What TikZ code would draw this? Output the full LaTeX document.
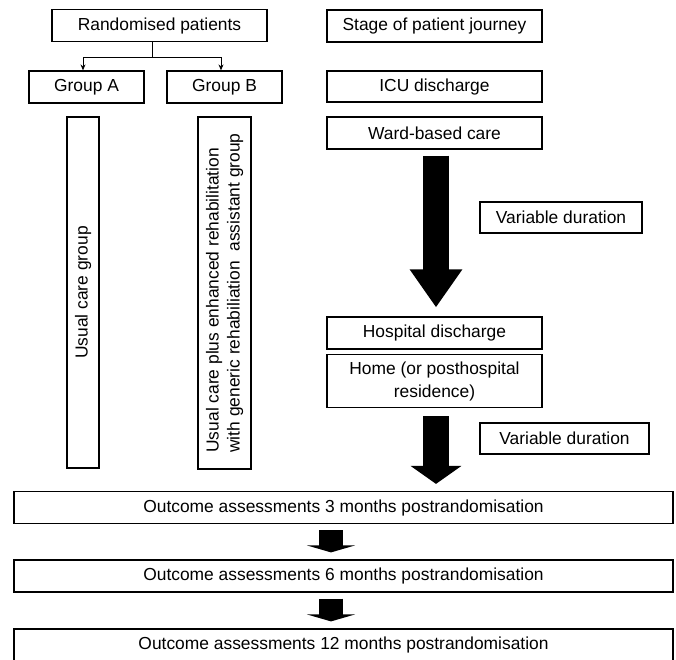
\documentclass[tikz,border=0pt]{standalone}
\usepackage{fontspec}
\setmainfont{Liberation Sans}
\usetikzlibrary{arrows.meta}
\begin{document}
\begin{tikzpicture}[x=1pt,y=1pt,font=\fontsize{17.4}{23}\selectfont]
	\tikzstyle{mybox}=[draw,line width=1.2pt,inner sep=0pt,align=center]
	\tikzstyle{mythin}=[line width=1pt,-{Stealth[length=6pt,width=5pt]}]
	\tikzstyle{mybig}=[line width=26pt,-{Triangle[length=38pt,width=50pt]}]
	\tikzstyle{mymid}=[line width=26pt,-{Triangle[length=18pt,width=50pt]}]
	\tikzstyle{mysmall}=[line width=24pt,-{Triangle[length=7pt,width=48pt]}]
		\useasboundingbox (0,0) rectangle (676,-659);
		\clip (0,0) rectangle (676,-659);

		% left side: the two groups
		\node[mybox,minimum width=215pt,minimum height=32pt] (rand) at (159.5,-25.5) {Randomised patients};
		\node[mybox,minimum width=115pt,minimum height=32pt] (grpA) at (86.5,-87) {Group A};
		\node[mybox,minimum width=115pt,minimum height=32pt] (grpB) at (224.5,-87) {Group B};

		\draw[line width=1pt] ([xshift=-7.5pt]rand.south) -- ++(0,-15) coordinate (fork);
		\draw[mythin] (fork) -| ([xshift=-3.5pt]grpA.north);
		\draw[mythin] (fork) -| ([xshift=-3.5pt]grpB.north);

		\node[mybox,rotate=90,minimum width=351pt,minimum height=32pt] (usual) at (83,-292.5) {Usual care group};
		\node[mybox,rotate=90,minimum width=352pt,minimum height=53pt,align=left,font=\fontsize{17.4}{21}\selectfont] (enh) at (224.5,-293)
			{Usual care plus enhanced rehabilitation\\with generic rehabiliation\ \ assistant group};

		% right side: patient journey
		\node[mybox,minimum width=215pt,minimum height=32pt] (stage) at (434.5,-26) {Stage of patient journey};
		\node[mybox,minimum width=215pt,minimum height=31pt] (icu) at (434.5,-86.5) {ICU discharge};
		\node[mybox,minimum width=215pt,minimum height=32pt] (ward) at (434.5,-133) {Ward-based care};
		\node[mybox,minimum width=215pt,minimum height=32pt] (hosp) at (434.5,-333) {Hospital discharge};
		\node[mybox,minimum width=215pt,minimum height=53pt] (home) at (434.5,-381) {Home (or posthospital\\residence)};

		\node[mybox,minimum width=162pt,minimum height=31pt] (varA) at (561,-217.5) {Variable duration};
		\node[mybox,minimum width=169pt,minimum height=31pt] (varB) at (564.5,-438.5) {Variable duration};

		% outcome assessments
		\foreach \n / \y / \m in {out3/-507.5/3,out6/-576/6,out12/-645/12} {
			\node[mybox,minimum width=659pt,minimum height=32pt] (\n) at (343.5,\y) {Outcome assessments \m\ months postrandomisation};}

		\coordinate (homeend) at (home.south |- out3.north);
		\draw[mybig] ([xshift=1.5pt,yshift=-6pt]ward.south) -- ([xshift=1.5pt,yshift=9pt]hosp.north);
		\draw[mymid] ([xshift=1.5pt,yshift=-8pt]home.south) -- ([xshift=1.5pt,yshift=7pt]homeend);
		\foreach \a / \b in {out3/out6,out6/out12} {
			\draw[mysmall] ([xshift=-12.5pt,yshift=-6pt]\a.south) -- ([xshift=-12.5pt,yshift=7pt]\b.north);}
	\end{tikzpicture}
\end{document}
